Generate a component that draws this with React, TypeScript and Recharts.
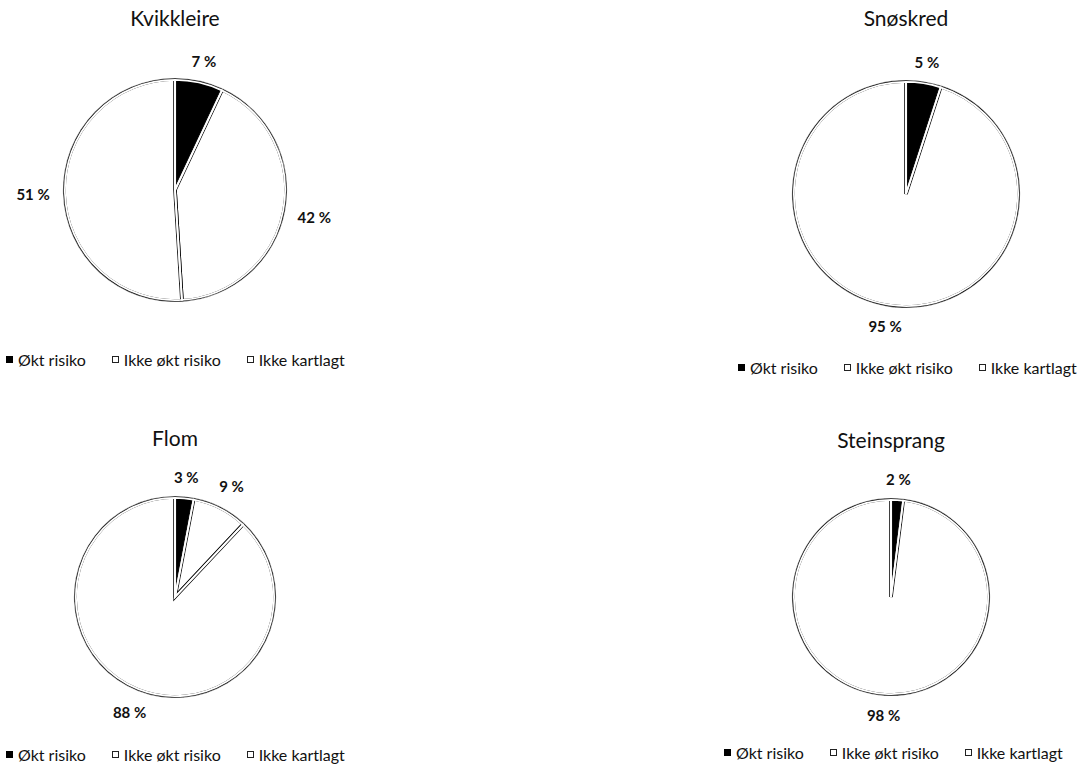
import React from 'react';
import { PieChart, Pie, Cell, Legend } from 'recharts';

const categories = ['Økt risiko', 'Ikke økt risiko', 'Ikke kartlagt'];
const sliceColors = ['#000000', '#ffffff', '#ffffff'];

const kvikkleireValues = [7, 42, 51];
const snoskredValues = [5, 95, 0];
const flomValues = [3, 9, 88];
const steinsprangValues = [2, 98, 0];

const FONT = 'Lato, "Open Sans", sans-serif';

// panel layout (page coordinates)
const panels = [
  { title: 'Kvikkleire', values: kvikkleireValues, left: 0, top: 0, cx: 175, cy: 190, r: 111, titleY: 18, legendX: 6, legendY: 360 },
  { title: 'Snøskred', values: snoskredValues, left: 540, top: 0, cx: 906, cy: 194, r: 113, titleY: 18, legendX: 738, legendY: 368 },
  { title: 'Flom', values: flomValues, left: 0, top: 382, cx: 175, cy: 597, r: 100, titleY: 438, legendX: 6, legendY: 755 },
  { title: 'Steinsprang', values: steinsprangValues, left: 540, top: 382, cx: 891, cy: 597, r: 98, titleY: 440, legendX: 724, legendY: 753 },
];

const PANEL_W = 543;
const PANEL_H = 382;

const renderLabel = (props: any) => {
  const { cx, cy, midAngle, outerRadius, value } = props;
  const rad = (-midAngle * Math.PI) / 180;
  const cos = Math.cos(rad);
  const sin = Math.sin(rad);
  const d = outerRadius + 19 + 12 * Math.abs(cos);
  return (
    <text
      x={cx + d * cos}
      y={cy + d * sin}
      textAnchor="middle"
      dominantBaseline="central"
      fill="#111"
      fontFamily={FONT}
      fontWeight={700}
      fontSize={15}
    >
      {value} %
    </text>
  );
};

const LegendContent = () => (
  <div style={{ display: 'flex', alignItems: 'center', gap: 26, fontFamily: FONT, fontSize: 16, color: '#111', whiteSpace: 'nowrap' }}>
    {categories.map((c, i) => (
      <div key={c} style={{ display: 'flex', alignItems: 'center' }}>
        <span
          style={{
            display: 'inline-block',
            width: i === 0 ? 7 : 5,
            height: i === 0 ? 7 : 5,
            background: sliceColors[i],
            border: i === 0 ? 'none' : '1.5px solid #222',
            marginRight: 5,
          }}
        />
        <span>{c}</span>
      </div>
    ))}
  </div>
);

function RiskPie({ p }: { p: (typeof panels)[number] }) {
  const data = categories
    .map((name, i) => ({ name, value: p.values[i], color: sliceColors[i] }))
    .filter((d) => d.value > 0);
  const cx = p.cx - p.left;
  const cy = p.cy - p.top;

  return (
    <div style={{ position: 'absolute', left: p.left, top: p.top, width: PANEL_W, height: PANEL_H }}>
      <div
        style={{
          position: 'absolute',
          left: cx - 120,
          width: 240,
          top: p.titleY - p.top - 13,
          lineHeight: '26px',
          textAlign: 'center',
          fontFamily: FONT,
          fontSize: 21,
          color: '#111',
        }}
      >
        {p.title}
      </div>
      <PieChart width={PANEL_W} height={PANEL_H} margin={{ top: 0, right: 0, bottom: 0, left: 0 }}>
        {/* slices with a wide black outline */}
        <Pie
          data={data}
          dataKey="value"
          nameKey="name"
          cx={cx}
          cy={cy}
          outerRadius={p.r}
          startAngle={90}
          endAngle={-270}
          stroke="#111"
          strokeWidth={3.6}
          label={renderLabel}
          labelLine={false}
          isAnimationActive={false}
        >
          {data.map((d) => (
            <Cell key={d.name} fill={d.color} />
          ))}
        </Pie>
        {/* white gap drawn down the middle of each outline */}
        <Pie
          data={data}
          dataKey="value"
          nameKey="name"
          cx={cx}
          cy={cy}
          outerRadius={p.r - 0.9}
          startAngle={90}
          endAngle={-270}
          fill="none"
          stroke="#fff"
          strokeWidth={1.8}
          legendType="none"
          isAnimationActive={false}
        >
          {data.map((d) => (
            <Cell key={d.name} fill="none" />
          ))}
        </Pie>
        {/* trim the outer edge so the rim stays thin */}
        <Pie
          data={data}
          dataKey="value"
          nameKey="name"
          cx={cx}
          cy={cy}
          innerRadius={p.r + 1.1}
          outerRadius={p.r + 3}
          startAngle={90}
          endAngle={-270}
          fill="#fff"
          stroke="none"
          legendType="none"
          isAnimationActive={false}
        >
          {data.map((d) => (
            <Cell key={d.name} fill="#fff" stroke="#fff" strokeWidth={0.5} />
          ))}
        </Pie>
        <Legend
          content={<LegendContent />}
          wrapperStyle={{ left: p.legendX - p.left, top: p.legendY - p.top - 10, width: 'auto', height: 20 }}
        />
      </PieChart>
    </div>
  );
}

export default function App() {
  return (
    <div style={{ position: 'absolute', left: 0, top: 0, width: 1083, height: 764, background: '#fff' }}>
      {panels.map((p) => (
        <RiskPie key={p.title} p={p} />
      ))}
    </div>
  );
}
